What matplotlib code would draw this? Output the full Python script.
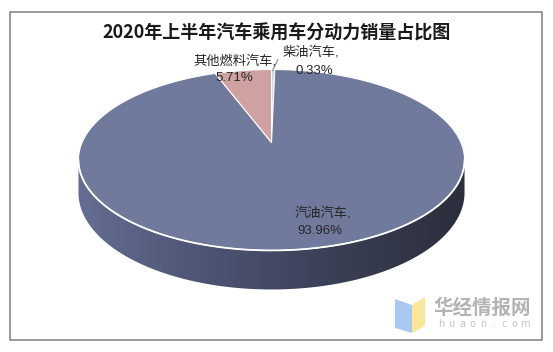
import numpy as np
import matplotlib
matplotlib.use('Agg')
import matplotlib.pyplot as plt
from matplotlib.patches import Polygon, Rectangle
from matplotlib.colors import LinearSegmentedColormap

# ---- data ----
categories = ['柴油汽车', '汽油汽车', '其他燃料汽车']
values = [0.33, 93.96, 5.71]
title = '2020年上半年汽车乘用车分动力销量占比图'
watermark = '华经情报网'
watermark_url = 'huaon.com'

# ---- style ----
colors = ['#c8d5e6', '#6f7a9c', '#cfa1a0']
label_pos = [((311, 52), (314, 71)),
             ((323, 213), (320, 231)),
             ((235, 61), (234, 78))]
cjk = ['Liberation Sans', 'Noto Sans CJK SC']

fig = plt.figure(figsize=(5.53, 3.52), dpi=100)
ax = fig.add_axes([0, 0, 1, 1])
ax.set_xlim(0, 553)
ax.set_ylim(352, 0)
ax.axis('off')

CX, CY, A, B, K = 271.5, 142.5, 189.4, 87.1, 0.193
D0 = 31.5


def proj(theta):
    u = np.sin(theta)
    v = np.cos(theta)
    w = 1 + K * v
    return CX + A * u / w, CY - B * v / w, w


# side of the pie (front part)
th = np.linspace(0, 2 * np.pi, 1441)
X, Y, W = proj(th)
iL, iR = np.argmin(X), np.argmax(X)
front = np.linspace(th[iR], th[iL], 400)
fx, fy, fw = proj(front)
bx, by = fx, fy + D0 / fw
side_xy = np.vstack([np.column_stack([fx, fy]), np.column_stack([bx, by])[::-1]])
side_patch = Polygon(side_xy, closed=True, facecolor='none', edgecolor='none')
ax.add_patch(side_patch)
cmap = LinearSegmentedColormap.from_list('side', ['#646e93', '#4d5473', '#3a3f55', '#2b2e3b'])
grad = np.linspace(0, 1, 256).reshape(1, -1)
im = ax.imshow(grad, extent=[fx.min() - 1, fx.max() + 1, by.max() + 1, fy.min() - 1],
               aspect='auto', cmap=cmap, zorder=1, interpolation='bilinear')
im.set_clip_path(side_patch)

# top face wedges
total = sum(values)
cum = 0.0
for val, col in zip(values, colors):
    t0 = cum / total * 2 * np.pi
    t1 = (cum + val) / total * 2 * np.pi
    cum += val
    tt = np.linspace(t0, t1, max(int(val * 8), 4))
    x, y, _ = proj(tt)
    pts = np.vstack([[CX, CY], np.column_stack([x, y])])
    ax.add_patch(Polygon(pts, closed=True, facecolor=col, edgecolor='white',
                         linewidth=0.8, zorder=3))

# white rim along the front edge
ax.plot(fx, fy, color='white', lw=1.3, zorder=4)

# labels
for name, val, (p1, p2) in zip(categories, values, label_pos):
    ax.text(p1[0], p1[1], f'{name},', ha='center', va='center', fontsize=9.5,
            color='#262626', family=cjk, zorder=6)
    ax.text(p2[0], p2[1], f'{val:.2f}%', ha='center', va='center', fontsize=9.5,
            color='#262626', family=cjk, zorder=6)

# leader line for the small slice
ax.plot([272.5, 278], [70.5, 59.5], color='#8c8c8c', lw=0.8, zorder=5)

# title
ax.text(277, 33, title, ha='center', va='center', fontsize=13, fontweight='bold',
        color='#1a1a1a', family=['Noto Sans CJK SC'])

# frame
ax.add_patch(Rectangle((10, 11.5), 532, 328.5, fill=False, edgecolor='#8a8a8a',
                       linewidth=1.2, zorder=7))

# watermark
ax.add_patch(Polygon([(395, 299), (412, 305), (412, 333), (395, 328)], closed=True,
                     facecolor='#a9c9f2', edgecolor='none', zorder=5))
ax.add_patch(Polygon([(412, 305), (425, 297), (425, 326), (412, 333)], closed=True,
                     facecolor='#f8e79a', edgecolor='none', zorder=5))
ax.text(482, 308, watermark, ha='center', va='center', fontsize=14, fontweight='bold',
        color='#b3b3b3', family=['Noto Sans CJK SC'], zorder=6)
for i, ch in enumerate(watermark_url):
    ax.text(441 + i * 10.5, 324, ch, ha='center', va='center', fontsize=7,
            color='#c4c4c4', family=['DejaVu Sans'], zorder=6)

fig.savefig('out.png', dpi=100)
